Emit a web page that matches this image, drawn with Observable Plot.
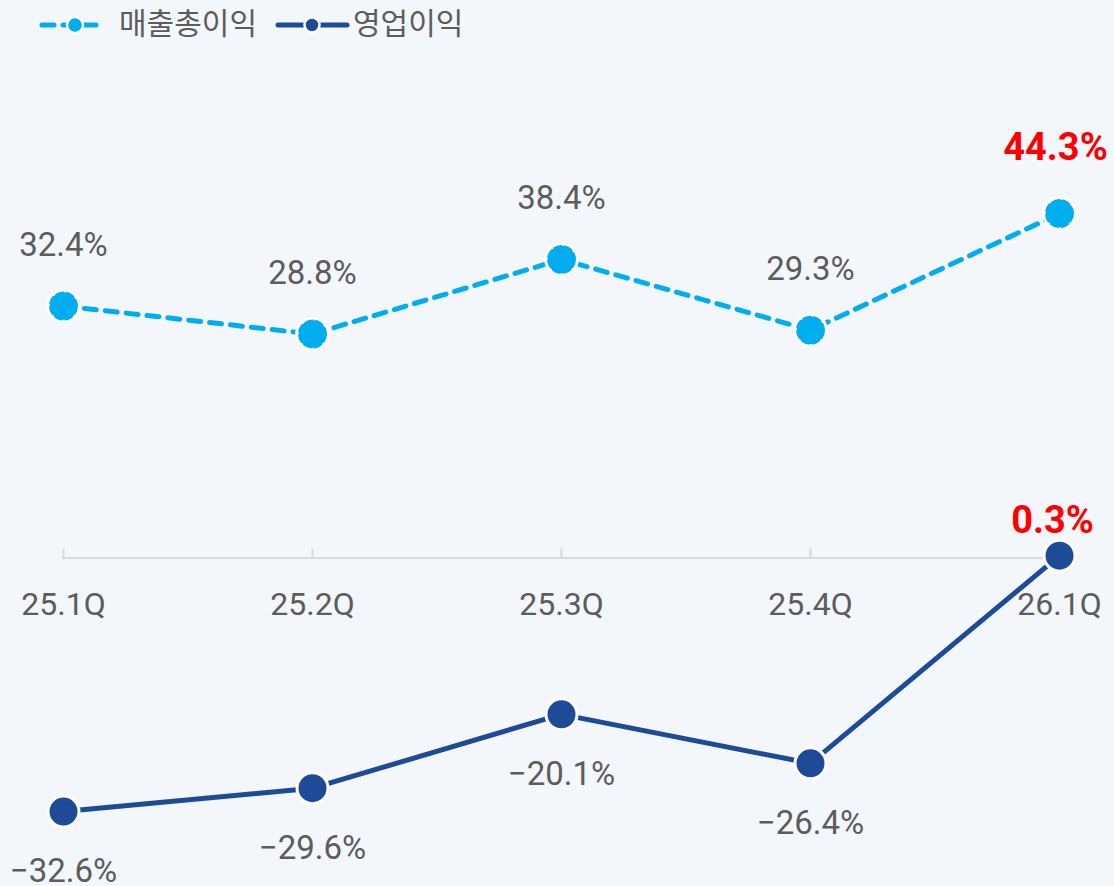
<!DOCTYPE html>
<html>
<head>
<meta charset="utf-8">
<script src="https://cdn.jsdelivr.net/npm/d3@7"></script>
<script src="https://cdn.jsdelivr.net/npm/@observablehq/plot@0.6"></script>
<style>
  html, body { margin: 0; padding: 0; background: #f3f6fa; }
  body { width: 1114px; height: 886px; overflow: hidden; font-family: Roboto, "Noto Sans CJK KR", sans-serif; }
  #legend { height: 46px; position: relative; }
  #legend svg { position: absolute; left: 0; top: 0; }
  #chart svg { display: block; }
</style>
</head>
<body>
<div id="legend"></div>
<div id="chart"></div>
<script>
const quarters = ["25.1Q", "25.2Q", "25.3Q", "25.4Q", "26.1Q"];
const grossMargin = [32.4, 28.8, 38.4, 29.3, 44.3];
const operatingMargin = [-32.6, -29.6, -20.1, -26.4, 0.3];
const seriesNames = ["매출총이익", "영업이익"];
const seriesColors = ["#00aeef", "#1d4b98"];
const highlightQuarter = "26.1Q";

const fmt = d3.format(".1f");
const gross = quarters.map((q, i) => ({q, v: grossMargin[i], hi: q === highlightQuarter}));
const oper = quarters.map((q, i) => ({q, v: operatingMargin[i], hi: q === highlightQuarter}));
const label = d => fmt(d.v) + "%";

// Legend (HTML/SVG, not a data mark)
document.getElementById("legend").innerHTML = `
<svg width="520" height="46" font-family="Roboto, 'Noto Sans CJK KR', sans-serif">
  <line x1="42" x2="104" y1="25" y2="25" stroke="${seriesColors[0]}" stroke-width="5" stroke-dasharray="12,9" stroke-linecap="round"/>
  <circle cx="75" cy="25" r="8" fill="${seriesColors[0]}" stroke="#fff" stroke-width="2.5"/>
  <text x="119" y="23" dy="0.35em" font-size="30" fill="#5c5c5c">${seriesNames[0]}</text>
  <line x1="278" x2="347" y1="25" y2="25" stroke="${seriesColors[1]}" stroke-width="5" stroke-linecap="round"/>
  <circle cx="312" cy="25" r="7.5" fill="${seriesColors[1]}" stroke="#fff" stroke-width="2.5"/>
  <text x="353" y="23" dy="0.35em" font-size="30" fill="#5c5c5c">${seriesNames[1]}</text>
</svg>`;

const chart = Plot.plot({
  width: 1114,
  height: 840,
  marginLeft: 62,
  marginRight: 54,
  marginTop: 0,
  marginBottom: 0,
  style: {background: "transparent", fontFamily: "Roboto, 'Noto Sans CJK KR', sans-serif"},
  x: {type: "point", domain: quarters, padding: 0, axis: null},
  y: {domain: [-42.24, 65.78], axis: null},
  marks: [
    Plot.ruleY([0], {stroke: "#d9d9d9", strokeWidth: 2}),
    Plot.ruleX(quarters, {x: d => d, y1: () => 0, y2: () => 0, insetBottom: 9, stroke: "#d9d9d9", strokeWidth: 2}),
    Plot.text(quarters, {x: d => d, y: () => 0, text: d => d, dy: 47, fontSize: 32, fill: "#5c5c5c"}),
    Plot.line(gross, {x: "q", y: "v", stroke: seriesColors[0], strokeWidth: 5, strokeDasharray: "12,9", strokeLinecap: "round"}),
    Plot.dot(gross, {x: "q", y: "v", r: 15.5, fill: seriesColors[0], stroke: "#fff", strokeWidth: 3.5}),
    Plot.dot(gross, {x: "q", y: "v", r: 13.5, fill: "none", stroke: seriesColors[0], strokeWidth: 2, strokeDasharray: "9,2"}),
    Plot.line(oper, {x: "q", y: "v", stroke: seriesColors[1], strokeWidth: 5}),
    Plot.dot(oper, {x: "q", y: "v", r: 15.5, fill: seriesColors[1], stroke: "#fff", strokeWidth: 3}),
    Plot.text(gross.filter(d => !d.hi), {x: "q", y: "v", text: label, dy: -61, fontSize: 33, fill: "#5c5c5c"}),
    Plot.text(gross.filter(d => d.hi), {x: "q", y: "v", text: label, dy: -66, dx: -4, fontSize: 38, fontWeight: "bold", fill: "#ff0000"}),
    Plot.text(oper.filter(d => !d.hi), {x: "q", y: "v", text: label, dy: 60, fontSize: 33, fill: "#5c5c5c"}),
    Plot.text(oper.filter(d => d.hi), {x: "q", y: "v", text: label, dy: -35, dx: -7, fontSize: 38, fontWeight: "bold", fill: "#ff0000"})
  ]
});
document.getElementById("chart").appendChild(chart);
</script>
</body>
</html>
